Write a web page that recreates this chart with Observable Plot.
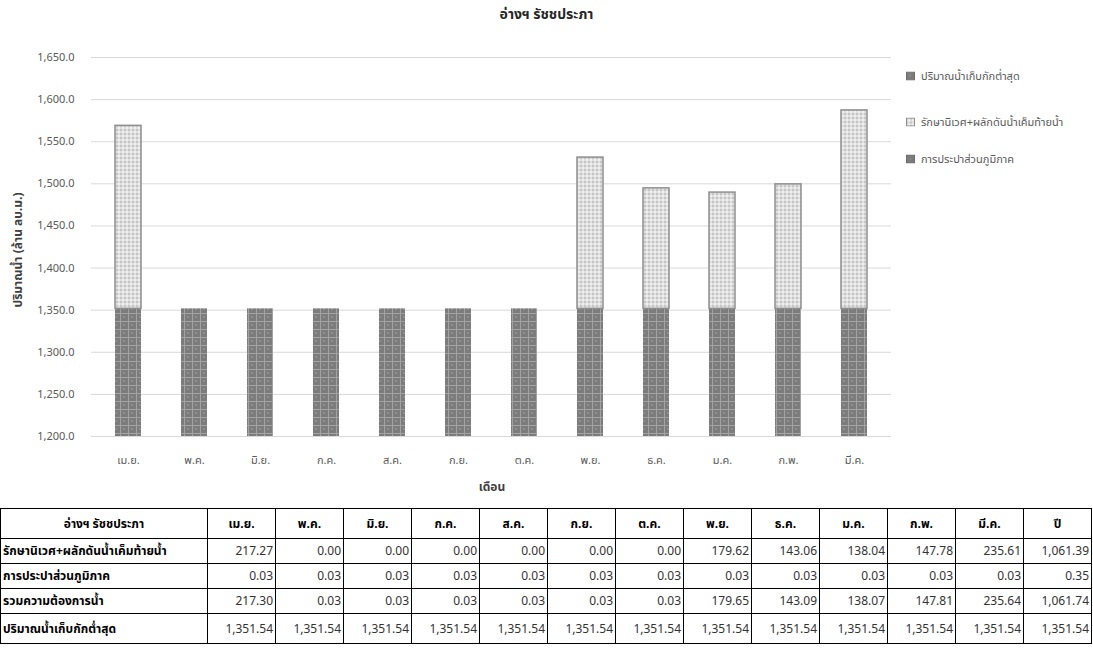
<!DOCTYPE html>
<html><head><meta charset="utf-8">
<script src="https://cdn.jsdelivr.net/npm/d3@7"></script>
<script src="https://cdn.jsdelivr.net/npm/@observablehq/plot@0.6"></script>
<style>
body{margin:0;background:#fff;font-family:Tahoma,"Noto Sans Thai","Leelawadee UI","DejaVu Sans",sans-serif;}
#wrap{position:relative;width:1093px;height:656px;overflow:hidden;}
#title{position:absolute;left:0;width:1093px;top:4px;text-align:center;font-weight:bold;font-size:14px;color:#262626;padding-left:0px;}
#title span{position:relative;left:0}
#chart{position:absolute;left:0;top:25px;}
#ylab{position:absolute;left:18px;top:250px;transform:translate(-50%,-50%) rotate(-90deg);white-space:nowrap;font-weight:bold;font-size:12px;color:#404040;}
#xlab{position:absolute;left:492px;top:487px;transform:translate(-50%,-50%);font-weight:bold;font-size:12px;color:#404040;}
#legend{position:absolute;left:906px;top:0;font-size:11px;color:#595959;}
.li{position:absolute;left:0;white-space:nowrap;display:flex;align-items:center;transform:translateY(-50%);}
.li svg{margin-right:6px;}
table{position:absolute;left:0;top:508px;border-collapse:collapse;table-layout:fixed;width:1092px;font-size:12px;color:#000;}
td,th{border:1px solid #000;padding:0 2px;overflow:hidden;white-space:nowrap;}
th{font-weight:bold;text-align:center;height:29px;}
td{text-align:right;height:24px;color:#333;}
td.rh{text-align:left;font-weight:bold;color:#000;}
tr.last td{height:29px;}
</style></head><body>
<div id="wrap">
  <div id="title">อ่างฯ รัชชประภา</div>
  <div id="chart"></div>
  <div id="ylab">ปริมาณน้ำ (ล้าน ลบ.ม.)</div>
  <div id="xlab">เดือน</div>
  <div id="legend"></div>
  <table id="tbl"></table>
</div>
<script>
const months = ["เม.ย.","พ.ค.","มิ.ย.","ก.ค.","ส.ค.","ก.ย.","ต.ค.","พ.ย.","ธ.ค.","ม.ค.","ก.พ.","มี.ค."];
const ecoFlow = [217.27,0.00,0.00,0.00,0.00,0.00,0.00,179.62,143.06,138.04,147.78,235.61];
const pwaSupply = [0.03,0.03,0.03,0.03,0.03,0.03,0.03,0.03,0.03,0.03,0.03,0.03];
const totalDemand = [217.30,0.03,0.03,0.03,0.03,0.03,0.03,179.65,143.09,138.07,147.81,235.64];
const minStorage = [1351.54,1351.54,1351.54,1351.54,1351.54,1351.54,1351.54,1351.54,1351.54,1351.54,1351.54,1351.54];
const yearTotals = [1061.39,0.35,1061.74,1351.54];
const yTicks = [1200,1250,1300,1350,1400,1450,1500,1550,1600,1650];
const S_MIN = "ปริมาณน้ำเก็บกักต่ำสุด";
const S_ECO = "รักษานิเวศ+ผลักดันน้ำเค็มท้ายน้ำ";
const S_PWA = "การประปาส่วนภูมิภาค";
const stackOrder = [S_MIN, S_PWA, S_ECO];
const legendOrder = [S_MIN, S_ECO, S_PWA];
const patternOf = {[S_MIN]:"url(#pMin)", [S_PWA]:"url(#pPwa)", [S_ECO]:"url(#pEco)"};
const strokeOf = {[S_MIN]:"none", [S_PWA]:"none", [S_ECO]:"#8f8f8f"};

const rows = [];
months.forEach((m,i)=>{
  rows.push({month:m, series:S_MIN, value:minStorage[i]});
  rows.push({month:m, series:S_PWA, value:pwaSupply[i]});
  rows.push({month:m, series:S_ECO, value:ecoFlow[i]});
});

const FONT = 'Tahoma,"Noto Sans Thai","Leelawadee UI","DejaVu Sans",sans-serif';
const plot = Plot.plot({
  width:1093, height:475,
  marginTop:32, marginBottom:64, marginLeft:91, marginRight:202,
  style:{fontFamily:FONT, fontSize:"11px", color:"#595959", background:"transparent"},
  x:{domain:months, paddingInner:0.6, paddingOuter:0.3, label:null, axis:null},
  y:{domain:[1200,1650], label:null, axis:null},
  marks:[
    Plot.gridY(yTicks, {stroke:"#d9d9d9", strokeOpacity:1}),
    Plot.barY(rows, Plot.stackY({
      x:"month", y:"value",
      order:(a,b)=>0,
      z:"series",
      fill:d=>patternOf[d.series],
      stroke:d=>strokeOf[d.series],
      strokeWidth:1.5,
      clip:true
    })),
    Plot.axisX({tickSize:0, tickPadding:20, fill:"#595959"}),
    Plot.axisY(yTicks, {tickSize:0, tickPadding:17, tickFormat:d3.format(",.1f"), fill:"#595959"})
  ]
});
document.getElementById("chart").appendChild(plot);

// patterns
const defsSvg = d3.select(plot);
const defs = defsSvg.insert("defs", ":first-child");
const pMin = defs.append("pattern").attr("id","pMin").attr("patternUnits","userSpaceOnUse").attr("width",8).attr("height",8);
pMin.append("rect").attr("width",8).attr("height",8).attr("fill","#7c7c7c");
pMin.append("rect").attr("x",0).attr("y",0).attr("width",8).attr("height",1).attr("fill","#a3a3a3");
pMin.append("rect").attr("x",0).attr("y",0).attr("width",1).attr("height",8).attr("fill","#a3a3a3");
pMin.append("rect").attr("x",3).attr("y",3).attr("width",2).attr("height",2).attr("fill","#8e8e8e");
const pPwa = defs.append("pattern").attr("id","pPwa").attr("patternUnits","userSpaceOnUse").attr("width",4).attr("height",4);
pPwa.append("rect").attr("width",4).attr("height",4).attr("fill","#7c7c7c");
pPwa.append("rect").attr("width",1).attr("height",1).attr("fill","#9a9a9a");
const pEco = defs.append("pattern").attr("id","pEco").attr("patternUnits","userSpaceOnUse").attr("width",4).attr("height",4);
pEco.append("rect").attr("width",4).attr("height",4).attr("fill","#dedede");
pEco.append("rect").attr("x",0).attr("y",0).attr("width",2).attr("height",2).attr("fill","#c6c6c6");
pEco.append("rect").attr("x",2).attr("y",2).attr("width",2).attr("height",2).attr("fill","#efefef");

// legend
const legY = {[S_MIN]:76, [S_ECO]:122, [S_PWA]:159};
const leg = d3.select("#legend");
legendOrder.forEach(s=>{
  const it = leg.append("div").attr("class","li").style("top", legY[s]+"px");
  const sv = it.append("svg").attr("width",9).attr("height",9);
  sv.append("rect").attr("x",0.5).attr("y",0.5).attr("width",8).attr("height",8)
    .attr("fill",patternOf[s]).attr("stroke", s===S_ECO ? "#8f8f8f" : "#6e6e6e");
  it.append("span").text(s);
});

// table
const tbl = d3.select("#tbl");
const cg = tbl.append("colgroup");
cg.append("col").style("width","207px");
for(let i=0;i<13;i++) cg.append("col").style("width","68px");
const hr = tbl.append("tr");
hr.append("th").text("อ่างฯ รัชชประภา");
months.forEach(m=>hr.append("th").text(m));
hr.append("th").text("ปี");
const fmt = d3.format(",.2f");
const bodyRows = [
  ["รักษานิเวศ+ผลักดันน้ำเค็มท้ายน้ำ", ecoFlow, yearTotals[0]],
  ["การประปาส่วนภูมิภาค", pwaSupply, yearTotals[1]],
  ["รวมความต้องการน้ำ", totalDemand, yearTotals[2]],
  ["ปริมาณน้ำเก็บกักต่ำสุด", minStorage, yearTotals[3]]
];
bodyRows.forEach((r,k)=>{
  const tr = tbl.append("tr").attr("class", k===3 ? "last" : null);
  tr.append("td").attr("class","rh").text(r[0]);
  r[1].forEach(v=>tr.append("td").text(fmt(v)));
  tr.append("td").text(fmt(r[2]));
});
</script>
</body></html>
